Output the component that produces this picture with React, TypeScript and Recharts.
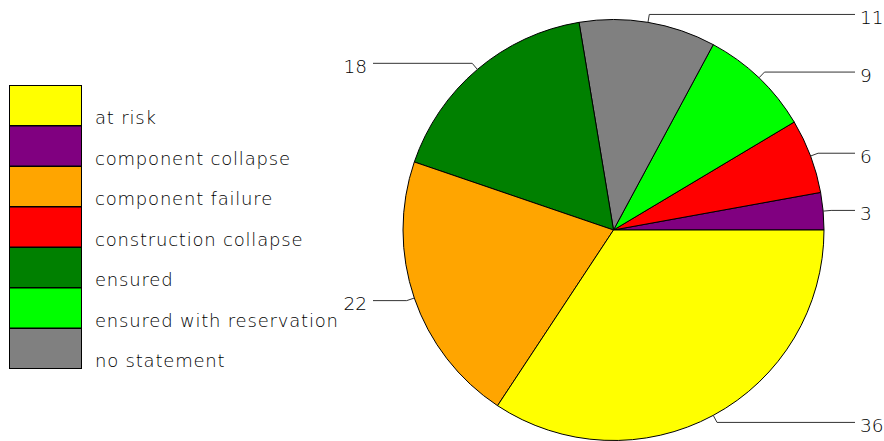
import { PieChart, Pie, Cell } from "recharts";

// slice order follows the drawing: counterclockwise from 3 o'clock
const categories = [
    "component collapse",
    "construction collapse",
    "ensured with reservation",
    "no statement",
    "ensured",
    "component failure",
    "at risk",
];
const counts = [3, 6, 9, 11, 18, 22, 36];
const colors = ["#800080", "#ff0000", "#00ff00", "#808080", "#008000", "#ffa500", "#ffff00"];

// legend is listed alphabetically
const legendOrder = [
    "at risk",
    "component collapse",
    "component failure",
    "construction collapse",
    "ensured",
    "ensured with reservation",
    "no statement",
];

const FONT = "'DejaVu Sans', sans-serif";
const RADIAN = Math.PI / 180;

const data = categories.map((name, i) => ({ name, value: counts[i] }));

function renderLabel(props: any) {
    const { cx, cy, midAngle, outerRadius, value } = props;
    const cos = Math.cos(-midAngle * RADIAN);
    const sin = Math.sin(-midAngle * RADIAN);
    const x1 = cx + outerRadius * cos;
    const y1 = cy + outerRadius * sin;
    const x2 = cx + (outerRadius + 8) * cos;
    const y2 = cy + (outerRadius + 8) * sin;
    const right = cos >= 0;
    const x3 = right ? 855 : 373;
    return (
        <g>
            <polyline points={`${x1},${y1} ${x2},${y2} ${x3},${y2}`} fill="none" stroke="#333" strokeWidth={1} />
            <text
                x={right ? x3 + 5 : x3 - 6}
                y={y2 + 3}
                textAnchor={right ? "start" : "end"}
                dominantBaseline="central"
                fontFamily={FONT}
                fontWeight={200}
                fontSize={18.5}
                fill="#000"
            >
                {value}
            </text>
        </g>
    );
}

export default function App() {
    return (
        <div style={{ position: "fixed", top: 0, left: 0, width: 884, height: 441, background: "#fff" }}>
            <svg width={340} height={441} style={{ position: "absolute", top: 0, left: 0 }}>
                {legendOrder.map((name, i) => {
                    const top = 85 + i * 40.5;
                    const color = colors[categories.indexOf(name)];
                    return (
                        <g key={name}>
                            <rect x={9.5} y={top + 0.5} width={72} height={40} fill={color} stroke="#000" strokeWidth={1} />
                            <text
                                x={95}
                                y={top + 39}
                                fontFamily={FONT}
                                fontWeight={200}
                                fontSize={18}
                                letterSpacing={0.8}
                                fill="#000"
                            >
                                {name}
                            </text>
                        </g>
                    );
                })}
            </svg>
            <div style={{ position: "absolute", top: 0, left: 0 }}>
                <PieChart width={884} height={441} margin={{ top: 0, right: 0, bottom: 0, left: 0 }}>
                    <Pie
                        data={data}
                        dataKey="value"
                        nameKey="name"
                        cx={613.5}
                        cy={230}
                        outerRadius={210.5}
                        startAngle={0}
                        endAngle={360}
                        stroke="#000"
                        strokeWidth={1}
                        label={renderLabel}
                        labelLine={false}
                        isAnimationActive={false}
                    >
                        {data.map((d, i) => (
                            <Cell key={d.name} fill={colors[i]} />
                        ))}
                    </Pie>
                </PieChart>
            </div>
        </div>
    );
}
